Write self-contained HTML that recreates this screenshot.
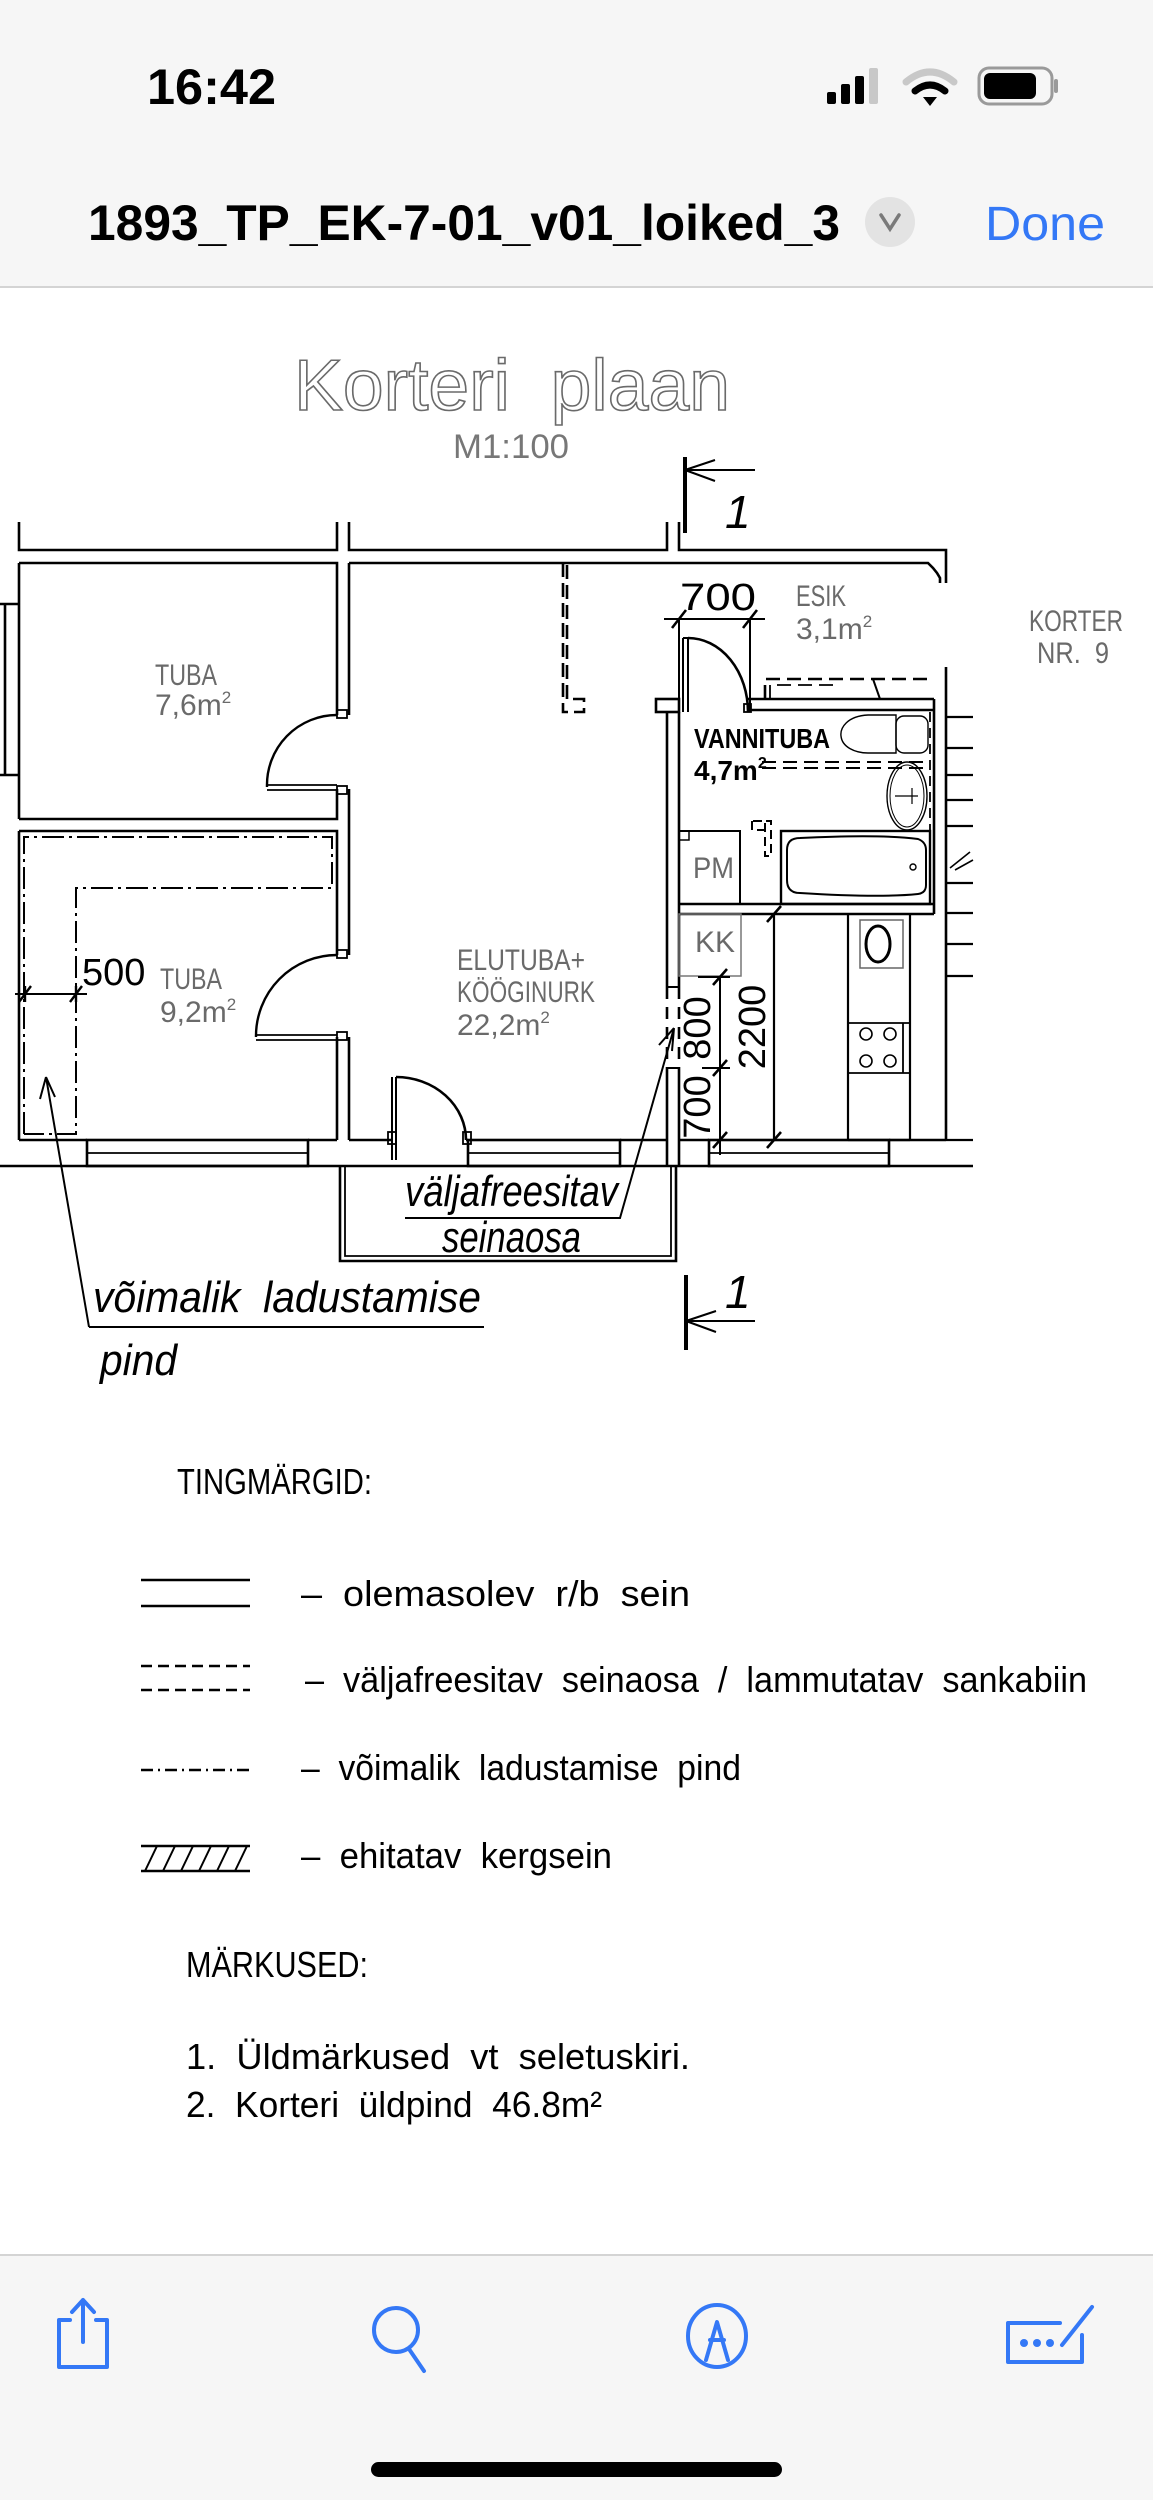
<!DOCTYPE html>
<html><head><meta charset="utf-8"><style>
html,body{margin:0;padding:0;background:#fff;}
svg{display:block;}
text{white-space:pre;}
</style></head><body>
<svg width="1153" height="2500" viewBox="0 0 1153 2500" xmlns="http://www.w3.org/2000/svg" font-family="Liberation Sans, sans-serif" xml:space="preserve">
<!-- header -->
<rect x="0" y="0" width="1153" height="287" fill="#f6f6f6"/>
<line x1="0" y1="287" x2="1153" y2="287" stroke="#d4d4d4" stroke-width="2"/>
<text x="147" y="104" font-size="50" font-weight="bold" textLength="129" lengthAdjust="spacingAndGlyphs">16:42</text>
<g fill="#000">
<rect x="827" y="92" width="9" height="12" rx="2"/><rect x="841" y="84" width="9" height="20" rx="2"/><rect x="855" y="76" width="9" height="28" rx="2"/><rect x="869" y="68" width="9" height="36" rx="2" fill="#c8c8c8"/>
</g>
<g fill="none" stroke-linecap="round">
<path d="M906,82 Q930,62 954,82" stroke="#c8c8c8" stroke-width="7"/>
<path d="M915,91 Q930,79 945,91" stroke="#000" stroke-width="7"/>
</g>
<path d="M923,97 L937,97 L930,106 Z" fill="#000"/>
<rect x="979" y="68" width="73" height="36" rx="10" fill="none" stroke="#9a9a9a" stroke-width="3"/>
<rect x="984" y="73" width="52" height="26" rx="6" fill="#000"/>
<rect x="1054" y="79" width="4" height="14" rx="2" fill="#9a9a9a"/>
<text x="88" y="240" font-size="50" font-weight="bold" textLength="752" lengthAdjust="spacingAndGlyphs">1893_TP_EK-7-01_v01_loiked_3</text>
<circle cx="890" cy="222" r="25" fill="#e3e3e3"/>
<path d="M881,215 L890,229 L899,215" fill="none" stroke="#7a7a7a" stroke-width="3.5" stroke-linecap="round"/>
<text x="985" y="240" font-size="48" fill="#3478f6" textLength="120" lengthAdjust="spacingAndGlyphs">Done</text>

<!-- title -->
<text x="294" y="410" font-size="72" fill="#fff" stroke="#6a6a6a" stroke-width="1.6" textLength="436" lengthAdjust="spacingAndGlyphs">Korteri  plaan</text>
<text x="453" y="458" font-size="34" fill="#777" textLength="116" lengthAdjust="spacingAndGlyphs">M1:100</text>

<!-- plan -->
<g fill="none" stroke="#000" stroke-width="2.6">
<path d="M19,522 V550 H337 V522"/>
<path d="M349,522 V550 H667 V522"/>
<path d="M679,522 V550 H946 V583"/>
<path d="M19,563 H337 V715"/>
<path d="M349,563 H928 L933,568 L937,573 L940,578 V583"/>
<path d="M0,604 H19 M0,775 H19 M5,604 V775 M19,563 V819"/>
<path d="M19,819 H337 V789 M19,831 H337 V955"/>
<path d="M19,831 V1140"/>
<path d="M349,563 V715 M349,789 V955 M349,1037 V1140 M337,1037 V1140"/>
<path d="M337,715 A70,70 0 0 0 267,787" stroke-width="2.4"/>
<path d="M267,785 H337 M267,790 H337" stroke-width="1.8"/>
<path d="M337,955 A81,81 0 0 0 256,1037" stroke-width="2.4"/>
<path d="M256,1035 H337 M256,1040 H337" stroke-width="1.8"/>
<rect x="337" y="710" width="10" height="8" stroke-width="1.8"/>
<rect x="337" y="786" width="10" height="8" stroke-width="1.8"/>
<rect x="337" y="950" width="10" height="8" stroke-width="1.8"/>
<rect x="337" y="1032" width="10" height="8" stroke-width="1.8"/>
<path d="M19,1140 H87 M308,1140 H337 M349,1140 H392 M466,1140 H468 M620,1140 H667"/>
<path d="M0,1166 H973"/>
<rect x="87" y="1140" width="221" height="26"/><path d="M87,1153 H308" stroke-width="1.8"/>
<rect x="468" y="1140" width="152" height="26"/><path d="M468,1153 H620" stroke-width="1.8"/>
<path d="M392,1077 V1160 M396,1077 V1160" stroke-width="2"/>
<path d="M396,1077 A70,63 0 0 1 466,1140"/>
<rect x="388" y="1132" width="8" height="12" stroke-width="1.8"/>
<rect x="463" y="1132" width="8" height="12" stroke-width="1.8"/>
<path d="M340,1166 V1261 H676 V1166"/>
<path d="M345,1166 V1256 H671 V1166" stroke-width="1.8"/>
<rect x="656" y="699" width="23" height="13"/>
<path d="M667,712 V987 M679,712 V987 M667,1068 V1140 M679,1068 V1166 M667,1140 V1166"/>
<path d="M667,987 V1068 M679,987 V1068" stroke-dasharray="12,8"/>
<path d="M667,987 H679 M667,1068 H679" stroke-width="2"/>
<path d="M563,563 V712 H584 V699 H567 V563" stroke-dasharray="14,6"/>
<path d="M683,638 V712 M688,638 V712 M683,638 H688" stroke-width="2"/>
<path d="M688,638 A60,74 0 0 1 748,712"/>
<rect x="744" y="704" width="7" height="8" stroke-width="1.8"/>
<path d="M748,699 H934 M748,710 H934"/>
<path d="M679,904 H934 M679,914 H934"/>
<path d="M765,699 V679 H934" stroke-dasharray="14,7"/>
<path d="M770,699 V685 H840" stroke-dasharray="14,7" stroke-width="1.8"/>
<path d="M873,679 L880,699" stroke-width="2"/>
<path d="M934,699 V914 M946,667 V1140"/>
<path d="M930,712 V900" stroke-dasharray="10,6" stroke-width="1.8"/>
<path d="M946,717 H973 M946,748 H973 M946,775 H973 M946,800 H973 M946,826 H973 M946,883 H973 M946,913 H973 M946,944 H973 M946,976 H973 M946,1140 H973" stroke-width="2.2"/>
<path d="M950,868 L970,852 M955,870 L973,860" stroke-width="1.6"/>
<path d="M762,762 H930 M762,768 H930" stroke-dasharray="14,7" stroke-width="2"/>
<path d="M896,715 L868,715 C847,716 840,728 841,736 C842,747 855,753 868,753 L896,753 Z" stroke-width="1.4"/>
<rect x="896" y="716" width="32" height="37" rx="8" stroke-width="1.4"/>
<ellipse cx="907" cy="796" rx="20" ry="34" stroke-width="1.4"/>
<ellipse cx="907" cy="796" rx="17" ry="31" stroke-width="1"/>
<path d="M895,796 H918 M912,788 V804" stroke-width="1.2"/>
<rect x="679" y="831" width="61" height="73" stroke-width="2"/>
<rect x="679" y="831" width="10" height="9" stroke-width="1.5"/>
<path d="M753,821 H765 V856 H771 V821 H765 M752,821 V830 H765" stroke-dasharray="9,5" stroke-width="2"/>
<rect x="781" y="831" width="149" height="73" stroke-width="2.4"/>
<path d="M800,838 Q880,834 918,839 Q926,842 926,850 V885 Q926,893 918,894 Q880,898 800,893 Q787,893 787,880 V850 Q787,838 800,838 Z" stroke-width="2"/>
<circle cx="913" cy="867" r="3" stroke-width="1.4"/>
<rect x="679" y="914" width="62" height="62" stroke="#777" stroke-width="1.5"/>
<path d="M774,914 V1140 M848,914 V1140 M910,914 V1140 M848,1140 H910" stroke-width="2.2"/>
<rect x="860" y="920" width="43" height="48" stroke="#666" stroke-width="1.5"/>
<ellipse cx="878" cy="944" rx="12" ry="18" stroke-width="3"/>
<path d="M849,1023 H910 M849,1073 H910 M903,1023 V1073" stroke-width="1.8"/>
<circle cx="866" cy="1034" r="6" stroke-width="1.6"/><circle cx="890" cy="1034" r="6" stroke-width="1.6"/>
<circle cx="866" cy="1061" r="6" stroke-width="1.6"/><circle cx="890" cy="1061" r="6" stroke-width="1.6"/>
<path d="M679,1140 H709 M889,1140 H946"/>
<rect x="709" y="1140" width="180" height="26"/><path d="M709,1153 H889" stroke-width="1.8"/>
<path d="M24,1134 V837 H332 V888 H76 V1134 H24" stroke-dasharray="22,5,3,5" stroke-width="2"/>
<path d="M15,994 H87" stroke-width="2"/>
<path d="M19,1002 L31,986 M70,1002 L82,986 M25,986 V1002 M76,986 V1002" stroke-width="2.4"/>
<path d="M664,619 H765 M679,619 V712 M750,619 V712" stroke-width="2"/>
<path d="M672,628 L686,610 M743,628 L757,610" stroke-width="2.6"/>
<path d="M720,977 V1155 M698,977 H730 M702,1068 H730 M702,1140 H730" stroke-width="2"/>
<path d="M713,985 L727,969 M713,1076 L727,1060 M713,1148 L727,1132 M767,1148 L781,1132 M767,922 L781,906" stroke-width="2.6"/>
<path d="M685,457 V533" stroke-width="4"/>
<path d="M685,470 H755 M685,470 L715,460 M685,470 L715,481" stroke-width="2"/>
<path d="M686,1275 V1350" stroke-width="4"/>
<path d="M686,1321 H755 M686,1321 L716,1311 M686,1321 L716,1332" stroke-width="2"/>
<path d="M89,1327 L46,1077 M46,1077 L40,1099 M46,1077 L55,1097" stroke-width="2"/>
<path d="M89,1327 H484" stroke-width="2"/>
<path d="M405,1218 H620 L674,1028 M674,1028 L659,1045 M674,1028 L672,1051" stroke-width="2"/>
</g>
<text x="725" y="528" font-size="46" font-style="italic">1</text>
<text x="725" y="1308" font-size="46" font-style="italic">1</text>
<g fill="#6a6a6a" font-size="30">
<text x="155" y="685" textLength="62" lengthAdjust="spacingAndGlyphs">TUBA</text>
<text x="155" y="715">7,6m<tspan font-size="17" dy="-12">2</tspan></text>
<text x="160" y="989" textLength="62" lengthAdjust="spacingAndGlyphs">TUBA</text>
<text x="160" y="1022">9,2m<tspan font-size="17" dy="-12">2</tspan></text>
<text x="457" y="970" textLength="128" lengthAdjust="spacingAndGlyphs">ELUTUBA+</text>
<text x="457" y="1002" textLength="138" lengthAdjust="spacingAndGlyphs">KÖÖGINURK</text>
<text x="457" y="1035">22,2m<tspan font-size="17" dy="-12">2</tspan></text>
<text x="796" y="606" textLength="50" lengthAdjust="spacingAndGlyphs">ESIK</text>
<text x="796" y="639">3,1m<tspan font-size="17" dy="-12">2</tspan></text>
<text x="1029" y="631" textLength="94" lengthAdjust="spacingAndGlyphs">KORTER</text>
<text x="1037" y="663" textLength="72" lengthAdjust="spacingAndGlyphs">NR.  9</text>
<text x="693" y="878" textLength="41" lengthAdjust="spacingAndGlyphs">PM</text>
<text x="695" y="952" textLength="40" lengthAdjust="spacingAndGlyphs">KK</text>
</g>
<text x="694" y="748" font-size="28" font-weight="bold" textLength="136" lengthAdjust="spacingAndGlyphs">VANNITUBA</text>
<text x="694" y="780" font-size="28" font-weight="bold">4,7m<tspan font-size="16" dy="-12">2</tspan></text>
<text x="82" y="985" font-size="38">500</text>
<text x="680" y="610" font-size="38" textLength="76" lengthAdjust="spacingAndGlyphs">700</text>
<g font-size="38">
<text transform="translate(710,1028) rotate(-90)" text-anchor="middle">800</text>
<text transform="translate(710,1107) rotate(-90)" text-anchor="middle">700</text>
<text transform="translate(765,1027) rotate(-90)" text-anchor="middle">2200</text>
</g>
<g font-size="44" font-style="italic">
<text x="405" y="1206" textLength="213" lengthAdjust="spacingAndGlyphs">väljafreesitav</text>
<text x="442" y="1252" textLength="139" lengthAdjust="spacingAndGlyphs">seinaosa</text>
<text x="93" y="1312" textLength="388" lengthAdjust="spacingAndGlyphs">võimalik  ladustamise</text>
<text x="100" y="1375" textLength="77" lengthAdjust="spacingAndGlyphs">pind</text>
</g>

<!-- legend -->
<g font-size="36">
<text x="177" y="1494" textLength="195" lengthAdjust="spacingAndGlyphs">TINGMÄRGID:</text>
<text x="301" y="1606" textLength="389" lengthAdjust="spacingAndGlyphs">–  olemasolev  r/b  sein</text>
<text x="305" y="1692" textLength="782" lengthAdjust="spacingAndGlyphs">–  väljafreesitav  seinaosa  /  lammutatav  sankabiin</text>
<text x="301" y="1780" textLength="440" lengthAdjust="spacingAndGlyphs">–  võimalik  ladustamise  pind</text>
<text x="301" y="1868" textLength="311" lengthAdjust="spacingAndGlyphs">–  ehitatav  kergsein</text>
<text x="186" y="1977" textLength="182" lengthAdjust="spacingAndGlyphs">MÄRKUSED:</text>
<text x="186" y="2069" textLength="504" lengthAdjust="spacingAndGlyphs">1.  Üldmärkused  vt  seletuskiri.</text>
<text x="186" y="2117" textLength="416" lengthAdjust="spacingAndGlyphs">2.  Korteri  üldpind  46.8m²</text>
</g>
<g fill="none" stroke="#000" stroke-width="2.4">
<path d="M141,1580 H250 M141,1606 H250"/>
<path d="M141,1666 H250 M141,1690 H250" stroke-dasharray="11,6"/>
<path d="M141,1770 H250" stroke-dasharray="12,5,2,5"/>
<path d="M141,1846 H250 M141,1871 H250"/>
<path d="M145,1871 L157,1846 M163,1871 L175,1846 M181,1871 L193,1846 M199,1871 L211,1846 M217,1871 L229,1846 M235,1871 L247,1846" stroke-width="2"/>
</g>

<!-- bottom toolbar -->
<rect x="0" y="2255" width="1153" height="245" fill="#f6f6f6"/>
<line x1="0" y1="2255" x2="1153" y2="2255" stroke="#d4d4d4" stroke-width="2"/>
<g fill="none" stroke="#3478f6" stroke-width="4" stroke-linecap="round" stroke-linejoin="round">
<path d="M70,2320 H59 V2367 H107 V2320 H96"/>
<path d="M83,2342 V2300 M72,2312 L83,2300 L94,2312"/>
<circle cx="396" cy="2330" r="22"/>
<path d="M409,2349 L424,2371"/>
<ellipse cx="717" cy="2336" rx="29" ry="31"/>
<path d="M706,2360 L717,2322 L728,2360 M710,2340 H724"/>
<path d="M1060,2323 H1008 V2362 H1082 V2335"/>
<path d="M1062,2345 L1092,2307"/>
</g>
<g fill="#3478f6"><circle cx="1024" cy="2343" r="4"/><circle cx="1037" cy="2343" r="4"/><circle cx="1050" cy="2343" r="4"/></g>
<rect x="371" y="2462" width="411" height="15" rx="7.5" fill="#000"/>
</svg>
</body></html>
